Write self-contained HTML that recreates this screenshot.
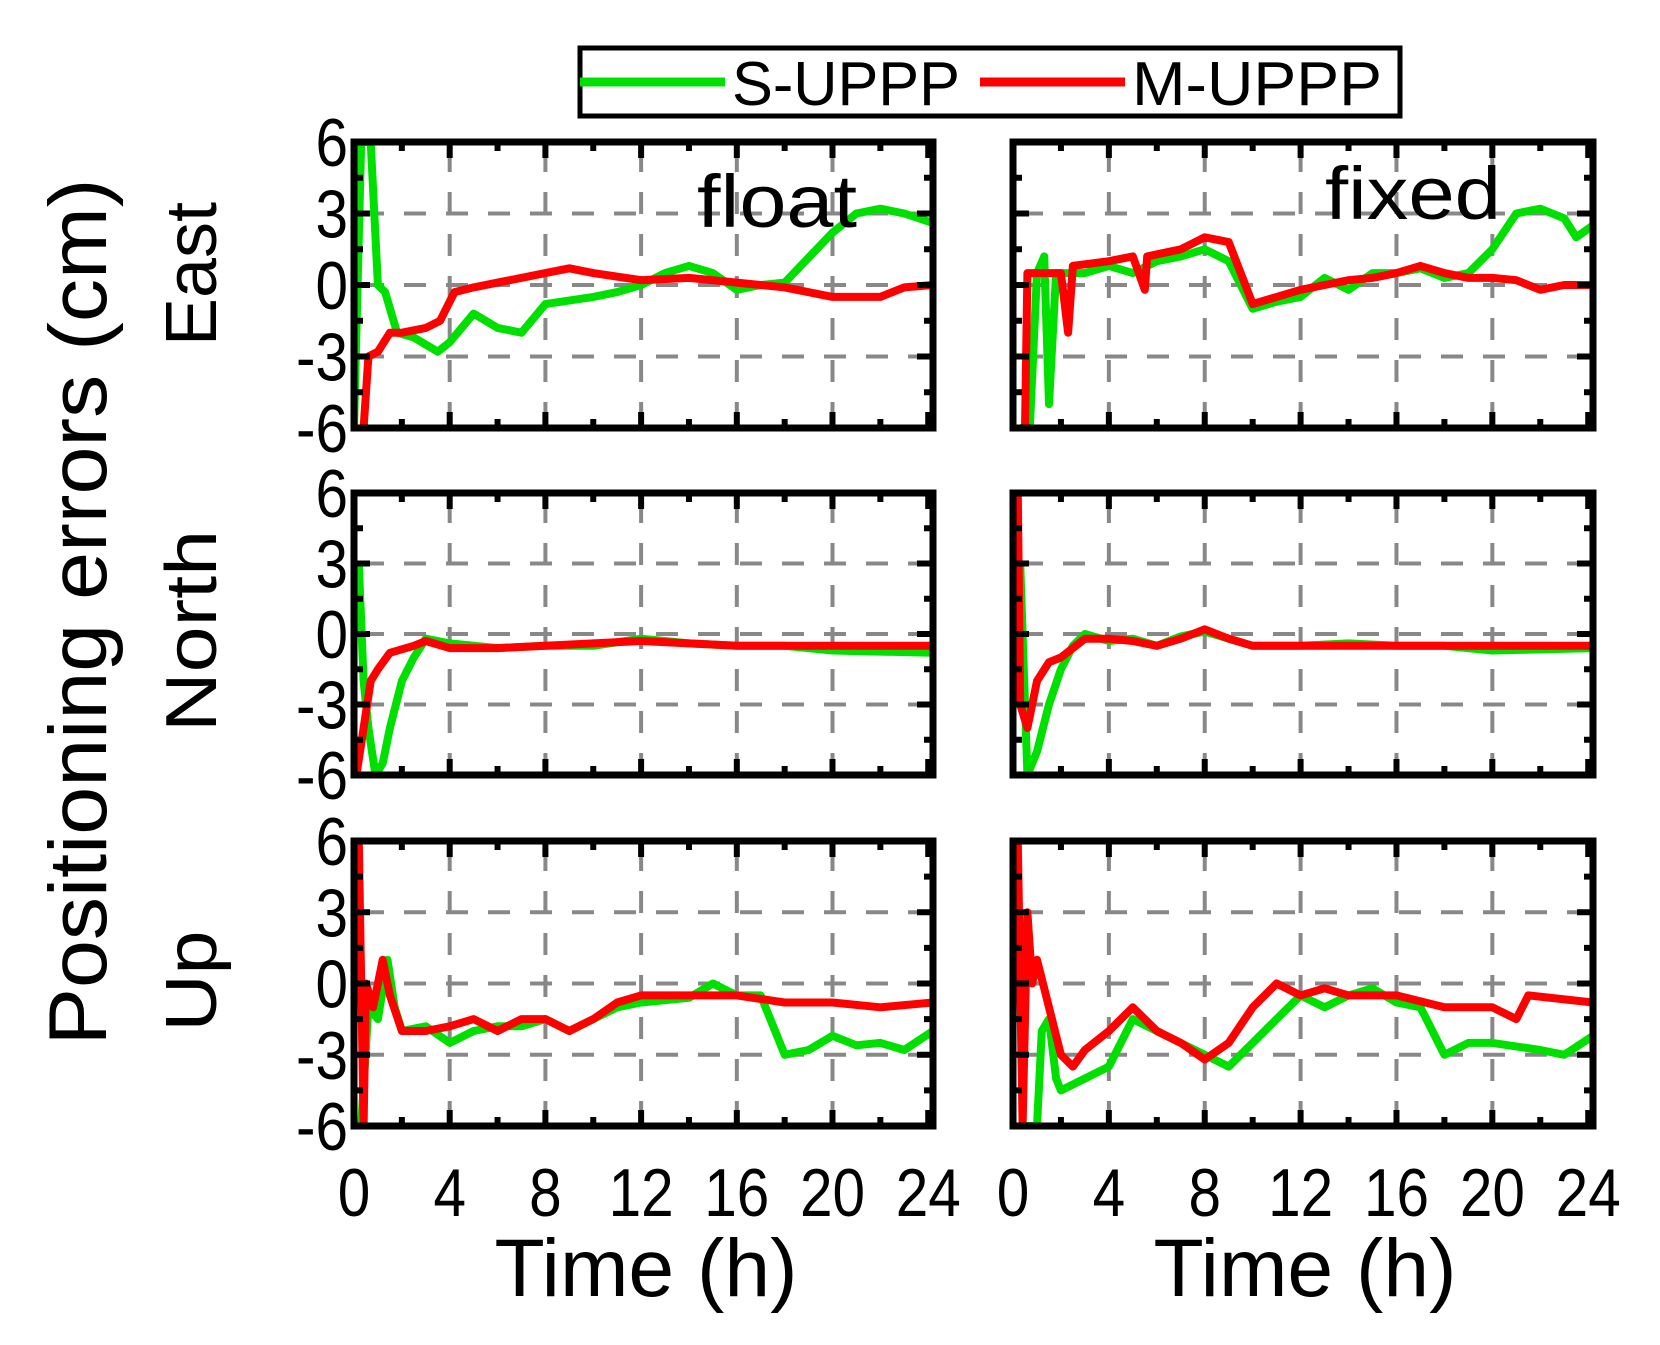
<!DOCTYPE html>
<html><head><meta charset="utf-8"><style>
html,body{margin:0;padding:0;background:#fff;}
svg{display:block;font-family:"Liberation Sans",sans-serif;}
</style></head><body>
<svg id="s" width="1660" height="1345" viewBox="0 0 1660 1345" xmlns="http://www.w3.org/2000/svg">
<rect width="1660" height="1345" fill="#fff"/>
<g id="plots"></g>
<!-- legend -->
<rect x="580" y="48" width="820" height="68" fill="#fff" stroke="#000" stroke-width="5"/>
<line x1="580" y1="82" x2="725" y2="82" stroke="#00e000" stroke-width="9"/>
<text x="732" y="105" font-size="62" textLength="228" lengthAdjust="spacingAndGlyphs">S-UPPP</text>
<line x1="980" y1="82" x2="1125" y2="82" stroke="#ff0000" stroke-width="9"/>
<text x="1132" y="105" font-size="62" textLength="250" lengthAdjust="spacingAndGlyphs">M-UPPP</text>
<!-- y label -->
<text transform="translate(106,612) rotate(-90)" font-size="82" text-anchor="middle" textLength="867" lengthAdjust="spacingAndGlyphs">Positioning errors (cm)</text>
<text transform="translate(216,274) rotate(-90)" font-size="72" text-anchor="middle" textLength="144" lengthAdjust="spacingAndGlyphs">East</text>
<text transform="translate(216,631) rotate(-90)" font-size="72" text-anchor="middle" textLength="202" lengthAdjust="spacingAndGlyphs">North</text>
<text transform="translate(216,981) rotate(-90)" font-size="72" text-anchor="middle" textLength="101" lengthAdjust="spacingAndGlyphs">Up</text>
<text x="697" y="227" font-size="74" textLength="160" lengthAdjust="spacingAndGlyphs">float</text>
<text x="1325" y="219" font-size="74" textLength="176" lengthAdjust="spacingAndGlyphs">fixed</text>
<text x="646" y="1296" font-size="82" text-anchor="middle" textLength="303" lengthAdjust="spacingAndGlyphs">Time (h)</text>
<text x="1305" y="1296" font-size="82" text-anchor="middle" textLength="303" lengthAdjust="spacingAndGlyphs">Time (h)</text>
<g id="labels" font-size="68"></g>
</svg>
<script>
var NS="http://www.w3.org/2000/svg";
var G=document.getElementById('plots'),L=document.getElementById('labels');
function el(p,n,a,t){var e=document.createElementNS(NS,n);for(var k in a)e.setAttribute(k,a[k]);if(t!==undefined)e.textContent=t;p.appendChild(e);return e;}
var cols=[[354,933],[1013,1593]],rows=[[142,428],[493,775],[841,1126]];
var T1=24.2;
var D={
'0,0':[[[0,-6],[0.3,6],[0.7,6],[1.0,0],[1.3,-0.3],[1.8,-2],[2.5,-2.2],[3,-2.5],[3.5,-2.8],[4,-2.4],[5,-1.2],[6,-1.8],[7,-2],[8,-0.8],[10,-0.5],[11,-0.3],[12,0],[13,0.5],[14,0.8],[15,0.5],[16,-0.2],[17,0],[18,0.1],[20,2.2],[21,3],[22,3.2],[23,3],[24.2,2.6]],
[[0.4,-6],[0.6,-3],[1,-2.8],[1.5,-2],[2,-2],[3,-1.8],[3.6,-1.5],[4.2,-0.3],[5,-0.1],[6,0.1],[8,0.5],[9,0.7],[10,0.5],[12,0.2],[14,0.3],[16,0.1],[18,-0.1],[20,-0.5],[22,-0.5],[23,-0.1],[24.2,0]]],
'0,1':[[[0.3,-6],[0.7,-6],[1,0.5],[1.3,1.2],[1.5,-5],[1.8,0.5],[3,0.5],[4,0.8],[5,0.5],[6,1.0],[7,1.2],[8,1.5],[9,1.0],[10,-1.0],[11,-0.7],[12,-0.5],[13,0.3],[14,-0.2],[15,0.5],[16,0.5],[17,0.7],[18,0.3],[19,0.5],[20,1.5],[21,3.0],[22,3.2],[23,2.8],[23.5,2],[24.2,2.5]],
[[0.5,-6],[0.6,0.5],[1.5,0.5],[2,0.5],[2.3,-2],[2.5,0.8],[4,1.0],[5,1.2],[5.5,-0.2],[5.6,1.2],[7,1.5],[8,2.0],[9,1.8],[9.5,0.5],[10,-0.8],[11,-0.5],[12,-0.2],[13,0],[14,0.2],[15,0.3],[16,0.5],[17,0.8],[18,0.5],[19,0.3],[20,0.3],[21,0.2],[22,-0.2],[23,0],[24.2,0]]],
'1,0':[[[0.2,3],[0.4,-2],[0.6,-4],[0.9,-6],[1.2,-5.5],[1.5,-4],[2,-2],[2.5,-1],[3,-0.2],[4,-0.4],[6,-0.6],[8,-0.5],[10,-0.5],[12,-0.2],[14,-0.4],[16,-0.5],[18,-0.5],[20,-0.7],[24.2,-0.8]],
[[0.1,-6],[0.4,-4],[0.7,-2],[1,-1.5],[1.5,-0.8],[2.5,-0.5],[3,-0.3],[4,-0.6],[6,-0.6],[8,-0.5],[10,-0.4],[12,-0.3],[14,-0.4],[16,-0.5],[20,-0.5],[24.2,-0.5]]],
'1,1':[[[0.3,3],[0.6,-6],[1,-5],[1.5,-3],[2,-1.5],[2.5,-0.5],[3,0],[4,-0.3],[5,-0.2],[6,-0.5],[7,-0.1],[8,0.1],[9,-0.2],[10,-0.5],[12,-0.5],[14,-0.4],[16,-0.5],[18,-0.5],[20,-0.7],[24.2,-0.6]],
[[0.2,6],[0.3,-3],[0.6,-4],[1,-2],[1.5,-1.2],[2,-1],[3,-0.2],[4,-0.2],[5,-0.3],[6,-0.5],[7,-0.2],[8,0.2],[9,-0.2],[10,-0.5],[12,-0.5],[16,-0.5],[20,-0.5],[24.2,-0.5]]],
'2,0':[[[0.3,-6],[0.6,-1],[1.0,-1.5],[1.4,1],[1.7,-1],[2,-2],[3,-1.8],[4,-2.5],[5,-2],[6,-1.8],[7,-1.8],[8,-1.5],[9,-2],[10,-1.5],[11,-1],[12,-0.8],[14,-0.6],[15,0],[16,-0.5],[17,-0.5],[18,-3],[19,-2.8],[20,-2.2],[21,-2.6],[22,-2.5],[23,-2.8],[24.2,-2.0]],
[[0.2,6],[0.4,-6],[0.5,0],[0.8,-1],[1.2,1],[1.5,-0.5],[2,-2],[3,-2],[4,-1.8],[5,-1.5],[6,-2],[7,-1.5],[8,-1.5],[9,-2],[10,-1.5],[11,-0.8],[12,-0.5],[14,-0.5],[16,-0.5],[18,-0.8],[20,-0.8],[22,-1],[24.2,-0.8]]],
'2,1':[[[0.5,-6],[1,-6],[1.2,-2],[1.5,-1.5],[1.8,-4],[2,-4.5],[3,-4],[4,-3.5],[5,-1.5],[6,-2],[7,-2.5],[8,-3],[9,-3.5],[10,-2.5],[11,-1.5],[12,-0.5],[13,-1],[14,-0.5],[15,-0.2],[16,-0.8],[17,-1],[18,-3],[19,-2.5],[20,-2.5],[22,-2.8],[23,-3],[24.2,-2.2]],
[[0.2,6],[0.4,-6],[0.6,3],[0.8,0],[1,1],[1.5,-1],[2,-3],[2.5,-3.5],[3,-2.8],[4,-2],[5,-1],[6,-2],[7,-2.5],[8,-3.2],[9,-2.5],[10,-1],[11,0],[12,-0.5],[13,-0.2],[14,-0.5],[16,-0.5],[18,-1],[20,-1],[21,-1.5],[21.5,-0.5],[24.2,-0.8]]]
};
function lbl(x,y,s,anchor){var g=el(L,'g',{transform:'translate('+x+','+y+') scale(0.86,1)'});el(g,'text',{x:0,y:0,'text-anchor':anchor},s);}
for(var r=0;r<3;r++)for(var c=0;c<2;c++){
 var x0=cols[c][0],x1=cols[c][1],y0=rows[r][0],y1=rows[r][1];
 var X=function(t){return x0+(x1-x0)*t/T1;}, Y=function(v){return y1-(y1-y0)*(v+6)/12;};
 var g=el(G,'g',{});
 el(g,'clipPath',{id:'c'+r+c}).appendChild((function(){var e=document.createElementNS(NS,'rect');e.setAttribute('x',x0);e.setAttribute('y',y0);e.setAttribute('width',x1-x0);e.setAttribute('height',y1-y0);return e;})());
 for(var t=4;t<=20;t+=4) el(g,'line',{x1:X(t),x2:X(t),y1:y0,y2:y1,stroke:'#888','stroke-width':4,'stroke-dasharray':'22,20','stroke-dashoffset':-8});
 [-3,0,3].forEach(function(v){el(g,'line',{x1:x0,x2:x1,y1:Y(v),y2:Y(v),stroke:'#888','stroke-width':4,'stroke-dasharray':'22,20','stroke-dashoffset':-8});});
 var d=D[r+','+c];
 ['#00e000','#ff0000'].forEach(function(col,i){
  var s=d[i].map(function(p,j){return (j?'L':'M')+X(p[0]).toFixed(1)+','+Y(p[1]).toFixed(1);}).join('');
  el(g,'path',{d:s,fill:'none',stroke:col,'stroke-width':8,'stroke-linejoin':'round','clip-path':'url(#c'+r+c+')'});
 });
 for(var t=2;t<=24;t+=2){var len=(t%4==0)?16:9;
  el(g,'line',{x1:X(t),x2:X(t),y1:y0,y2:y0+len,stroke:'#000','stroke-width':6});
  el(g,'line',{x1:X(t),x2:X(t),y1:y1,y2:y1-len,stroke:'#000','stroke-width':6});}
 for(var v=-4.5;v<=4.5;v+=1.5){var len=(v%3==0)?16:9;
  el(g,'line',{x1:x0,x2:x0+len,y1:Y(v),y2:Y(v),stroke:'#000','stroke-width':6});
  el(g,'line',{x1:x1,x2:x1-len,y1:Y(v),y2:Y(v),stroke:'#000','stroke-width':6});}
 el(g,'rect',{x:x0,y:y0,width:x1-x0,height:y1-y0,fill:'none',stroke:'#000','stroke-width':7});
 if(c==0){[6,3,0,-3,-6].forEach(function(v){lbl(348,Y(v)+24,String(v),'end');});}
 if(r==2){for(var t=0;t<=24;t+=4) lbl(X(t),1216,String(t),'middle');}
}
</script>
</body></html>
